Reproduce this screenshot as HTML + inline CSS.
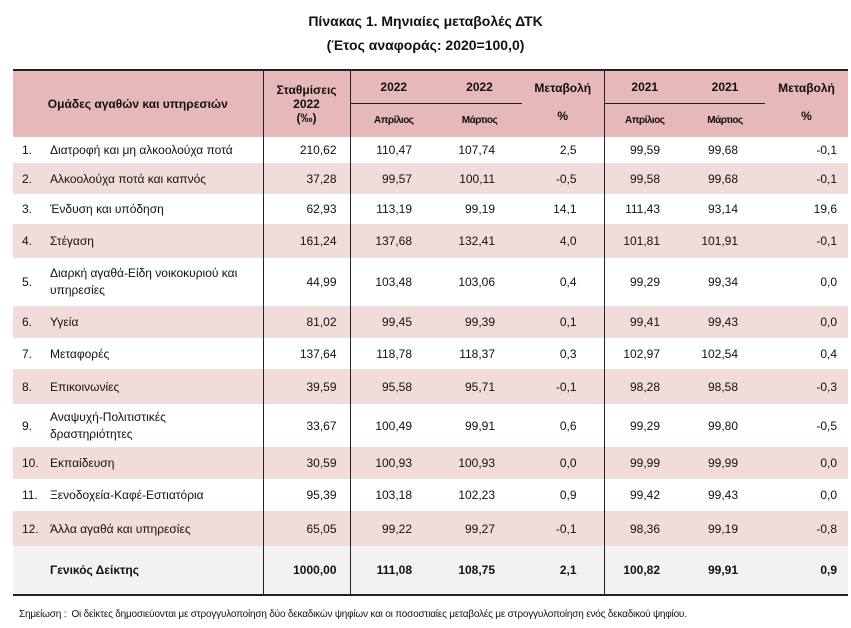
<!DOCTYPE html>
<html><head><meta charset="utf-8"><style>
body{margin:0;width:851px;height:628px;background:#fff;font-family:"Liberation Sans",sans-serif;color:#111;position:relative;overflow:hidden}
.t{position:absolute;left:0;width:851px;text-align:center;font-weight:bold;font-size:14px}
table{position:absolute;left:13px;top:69px;border-collapse:collapse;table-layout:fixed;width:835px;font-size:12px}
td{padding:0;vertical-align:middle;white-space:nowrap}
thead td{background:#e6b8b7;font-weight:bold;text-align:center;font-size:12px}
tr.h1 td{height:32px}tr.h2 td{height:33px}
.n{text-align:right}
.p{background:#f2dcdb}
.g{background:#f2f2f2}
.bl{border-left:1.5px solid #222}
.c1{padding-right:13px}.c2{padding-right:25px}.c3{padding-right:27px}.c4{padding-right:27px}.c5{padding-right:25px}.c6{padding-right:27px}.c7{padding-right:11px}
.num{padding-left:9px;width:28px}
.sm{font-size:10px;letter-spacing:-0.5px}
.w{line-height:17px}
</style></head><body>
<div class="t" style="top:13px">Πίνακας 1. Μηνιαίες μεταβολές ΔΤΚ</div>
<div class="t" style="top:37px">(Έτος αναφοράς: 2020=100,0)</div>
<table>
<colgroup><col style="width:37px"><col style="width:213px"><col style="width:87px"><col style="width:87px"><col style="width:85px"><col style="width:82px"><col style="width:81px"><col style="width:80px"><col style="width:83px"></colgroup>
<thead style="border-top:2.5px solid #222">
<tr class="h1"><td colspan="2" rowspan="2">Ομάδες αγαθών και υπηρεσιών</td><td rowspan="2" class="bl">Σταθμίσεις<br>2022<br>(‰)</td><td class="bl" style="border-bottom:1px solid #222">2022</td><td style="border-bottom:1px solid #222">2022</td><td rowspan="2" style="vertical-align:top;padding-top:10px">Μεταβολή<br><br>%</td><td class="bl" style="border-bottom:1px solid #222">2021</td><td style="border-bottom:1px solid #222">2021</td><td rowspan="2" style="vertical-align:top;padding-top:10px">Μεταβολή<br><br>%</td></tr>
<tr class="h2"><td class="bl sm">Απρίλιος</td><td class="sm">Μάρτιος</td><td class="bl sm">Απρίλιος</td><td class="sm">Μάρτιος</td></tr>
</thead>
<tbody>
<tr style="height:26px"><td class="num">1.</td><td>Διατροφή και μη αλκοολούχα ποτά</td><td class="n c1 bl">210,62</td><td class="n c2 bl">110,47</td><td class="n c3">107,74</td><td class="n c4">2,5</td><td class="n c5 bl">99,59</td><td class="n c6">99,68</td><td class="n c7">-0,1</td></tr>
<tr style="height:31px" class="p"><td class="num p">2.</td><td class="p">Αλκοολούχα ποτά και καπνός</td><td class="n c1 bl p">37,28</td><td class="n c2 bl p">99,57</td><td class="n c3 p">100,11</td><td class="n c4 p">-0,5</td><td class="n c5 bl p">99,58</td><td class="n c6 p">99,68</td><td class="n c7 p">-0,1</td></tr>
<tr style="height:30px"><td class="num">3.</td><td>Ένδυση και υπόδηση</td><td class="n c1 bl">62,93</td><td class="n c2 bl">113,19</td><td class="n c3">99,19</td><td class="n c4">14,1</td><td class="n c5 bl">111,43</td><td class="n c6">93,14</td><td class="n c7">19,6</td></tr>
<tr style="height:34px"><td class="num p">4.</td><td class="p">Στέγαση</td><td class="n c1 bl p">161,24</td><td class="n c2 bl p">137,68</td><td class="n c3 p">132,41</td><td class="n c4 p">4,0</td><td class="n c5 bl p">101,81</td><td class="n c6 p">101,91</td><td class="n c7 p">-0,1</td></tr>
<tr style="height:48px"><td class="num">5.</td><td class="w">Διαρκή αγαθά-Είδη νοικοκυριού και<br>υπηρεσίες</td><td class="n c1 bl">44,99</td><td class="n c2 bl">103,48</td><td class="n c3">103,06</td><td class="n c4">0,4</td><td class="n c5 bl">99,29</td><td class="n c6">99,34</td><td class="n c7">0,0</td></tr>
<tr style="height:32px"><td class="num p">6.</td><td class="p">Υγεία</td><td class="n c1 bl p">81,02</td><td class="n c2 bl p">99,45</td><td class="n c3 p">99,39</td><td class="n c4 p">0,1</td><td class="n c5 bl p">99,41</td><td class="n c6 p">99,43</td><td class="n c7 p">0,0</td></tr>
<tr style="height:31px"><td class="num">7.</td><td>Μεταφορές</td><td class="n c1 bl">137,64</td><td class="n c2 bl">118,78</td><td class="n c3">118,37</td><td class="n c4">0,3</td><td class="n c5 bl">102,97</td><td class="n c6">102,54</td><td class="n c7">0,4</td></tr>
<tr style="height:35px"><td class="num p">8.</td><td class="p">Επικοινωνίες</td><td class="n c1 bl p">39,59</td><td class="n c2 bl p">95,58</td><td class="n c3 p">95,71</td><td class="n c4 p">-0,1</td><td class="n c5 bl p">98,28</td><td class="n c6 p">98,58</td><td class="n c7 p">-0,3</td></tr>
<tr style="height:43px"><td class="num">9.</td><td class="w">Αναψυχή-Πολιτιστικές<br>δραστηριότητες</td><td class="n c1 bl">33,67</td><td class="n c2 bl">100,49</td><td class="n c3">99,91</td><td class="n c4">0,6</td><td class="n c5 bl">99,29</td><td class="n c6">99,80</td><td class="n c7">-0,5</td></tr>
<tr style="height:32px"><td class="num p">10.</td><td class="p">Εκπαίδευση</td><td class="n c1 bl p">30,59</td><td class="n c2 bl p">100,93</td><td class="n c3 p">100,93</td><td class="n c4 p">0,0</td><td class="n c5 bl p">99,99</td><td class="n c6 p">99,99</td><td class="n c7 p">0,0</td></tr>
<tr style="height:32px"><td class="num">11.</td><td>Ξενοδοχεία-Καφέ-Εστιατόρια</td><td class="n c1 bl">95,39</td><td class="n c2 bl">103,18</td><td class="n c3">102,23</td><td class="n c4">0,9</td><td class="n c5 bl">99,42</td><td class="n c6">99,43</td><td class="n c7">0,0</td></tr>
<tr style="height:35px"><td class="num p">12.</td><td class="p">Άλλα αγαθά και υπηρεσίες</td><td class="n c1 bl p">65,05</td><td class="n c2 bl p">99,22</td><td class="n c3 p">99,27</td><td class="n c4 p">-0,1</td><td class="n c5 bl p">98,36</td><td class="n c6 p">99,19</td><td class="n c7 p">-0,8</td></tr>
<tr style="height:49px;font-weight:bold;border-bottom:2.5px solid #222"><td class="g"></td><td class="g">Γενικός Δείκτης</td><td class="n c1 bl g">1000,00</td><td class="n c2 bl g">111,08</td><td class="n c3 g">108,75</td><td class="n c4 g">2,1</td><td class="n c5 bl g">100,82</td><td class="n c6 g">99,91</td><td class="n c7 g">0,9</td></tr>
</tbody></table>
<div style="position:absolute;left:19px;top:609px;font-size:10px;letter-spacing:-0.2px">Σημείωση :&nbsp; Οι δείκτες δημοσιεύονται με στρογγυλοποίηση δύο δεκαδικών ψηφίων και οι ποσοστιαίες μεταβολές με στρογγυλοποίηση ενός δεκαδικού ψηφίου.</div>
</body></html>
